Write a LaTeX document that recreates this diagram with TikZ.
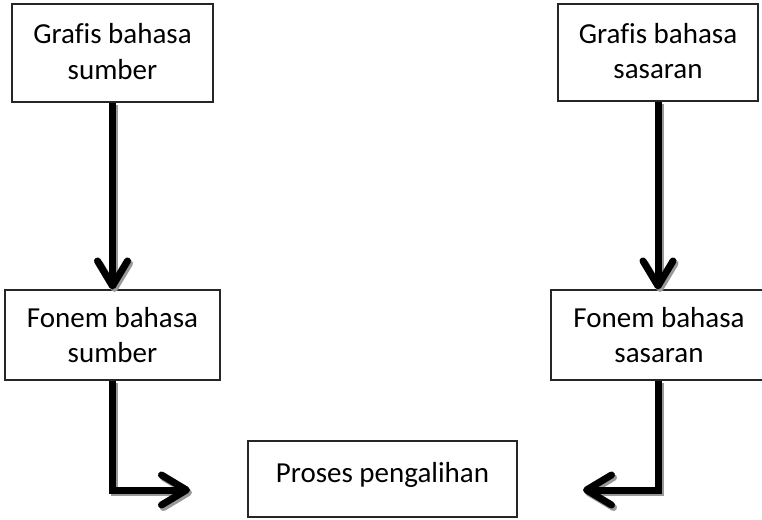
\documentclass[tikz,border=0pt]{standalone}
\usepackage{fontspec}
\setmainfont[Ligatures=CommonOff]{Carlito}
\usetikzlibrary{arrows.meta,calc}
\begin{document}
\begin{tikzpicture}[x=1pt,y=-1pt,
  box/.style={draw=black!85,line width=1.1pt,fill=white,align=center,inner sep=0pt,
    font=\fontsize{29}{35.5}\selectfont},
  conn/.style={line width=7pt,-{Straight Barb[length=25pt 0 0,width=30pt 0 0,line cap=round,line join=round]}},
  shade/.style={conn,draw=black!40}
]
\useasboundingbox (0,0) rectangle (762,519);
\clip (0,0) rectangle (762,519);
\fill[white] (0,0) rectangle (762,519);
\node[box,minimum width=201pt,minimum height=98pt,text height=53pt] (gs) at (112.5,53) {Grafis bahasa\\sumber};
\node[box,minimum width=200pt,minimum height=97pt,text height=53pt] (gt) at (658,52.5) {Grafis bahasa\\sasaran};
\node[box,minimum width=215pt,minimum height=90pt] (fs) at (112.5,335) {Fonem bahasa\\sumber};
\node[box,minimum width=216pt,minimum height=90pt] (ft) at (659,335) {Fonem bahasa\\sasaran};
\node[box,minimum width=269pt,minimum height=76pt,text height=20pt,text depth=14pt] (pp) at (382.5,479) {Proses pengalihan};
\coordinate (la) at (190,490);
\coordinate (ra) at (583,490);
\begin{scope}[transform canvas={shift={(2pt,-2.5pt)}}]
\draw[shade] (gs.south) -- (fs.north);
\draw[shade] (gt.south) -- (gt.south |- ft.north);
\draw[shade] (fs.south) |- (la);
\draw[shade] (gt.south |- ft.south) |- (ra);
\end{scope}
\draw[conn] (gs.south) -- (fs.north);
\draw[conn] (gt.south) -- (gt.south |- ft.north);
\draw[conn] (fs.south) |- (la);
\draw[conn] (gt.south |- ft.south) |- (ra);
\end{tikzpicture}
\end{document}
